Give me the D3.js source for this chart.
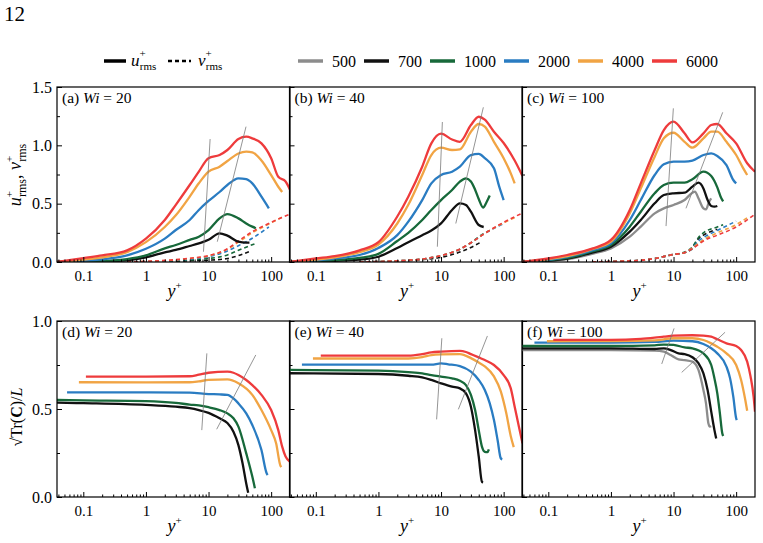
<!DOCTYPE html>
<html><head><meta charset="utf-8">
<script src="https://cdn.jsdelivr.net/npm/d3@7"></script>
<style>
body{margin:0;background:#fff}
svg{display:block}
text{font-family:"Liberation Serif","Times New Roman",serif;fill:#000}
</style>
</head><body>
<svg id="c" width="763" height="543"></svg>
<script>
// ---------------- DATA ----------------
const reList = [500, 700, 1000, 2000, 4000, 6000];
const legendLabels = ["500", "700", "1000", "2000", "4000", "6000"];
const xTickValues = [0.1, 1, 10, 100];
const xTickLabels = ["0.1", "1", "10", "100"];
const yTicksTop = [0, 0.5, 1.0, 1.5];
const yTickLabelsTop = ["0.0", "0.5", "1.0", "1.5"];
const yTicksBottom = [0, 0.5, 1.0];
const yTickLabelsBottom = ["0.0", "0.5", "1.0"];
const panelTags = ["(a)", "(b)", "(c)", "(d)", "(e)", "(f)"];
const panelWi = ["20", "40", "100", "20", "40", "100"];

// (a) Wi = 20 : u+rms
const uA = [
  [700, [[0.038,0],[0.1,0.002],[0.2,0.005],[0.5,0.015],[1,0.04],[2,0.083],[3,0.103],[5,0.137],[7,0.16],[10,0.19],[15,0.246],[20,0.226],[30,0.174],[40,0.166],[45,0.166]]],
  [1000, [[0.038,0],[0.1,0.003],[0.2,0.008],[0.5,0.025],[1,0.057],[2,0.117],[3,0.146],[5,0.189],[7,0.217],[10,0.274],[15,0.374],[20,0.411],[30,0.374],[40,0.331],[50,0.303],[57,0.29]]],
  [2000, [[0.038,0],[0.1,0.01],[0.2,0.023],[0.5,0.057],[1,0.113],[2,0.2],[3,0.274],[5,0.36],[7,0.446],[10,0.523],[15,0.6],[20,0.66],[30,0.717],[40,0.71],[50,0.674],[70,0.56],[92,0.46]]],
  [4000, [[0.038,0],[0.1,0.02],[0.2,0.04],[0.5,0.085],[1,0.17],[2,0.3],[3,0.4],[5,0.56],[7,0.675],[10,0.775],[15,0.817],[20,0.866],[30,0.93],[40,0.946],[50,0.94],[70,0.87],[100,0.745],[130,0.645],[150,0.6]]],
  [6000, [[0.038,0],[0.1,0.034],[0.2,0.057],[0.5,0.1],[1,0.2],[2,0.36],[3,0.49],[5,0.66],[7,0.775],[10,0.89],[15,0.917],[20,0.96],[30,1.054],[40,1.074],[50,1.06],[70,1.017],[100,0.89],[130,0.73],[170,0.69],[200,0.62]]]
];
// (a) v+rms
const vA = [
  [700, [[0.5,0],[1,0.002],[3,0.006],[5,0.01],[10,0.015],[20,0.03],[30,0.055],[45,0.09]]],
  [1000, [[0.5,0],[1,0.003],[3,0.01],[5,0.017],[10,0.03],[20,0.06],[30,0.1],[57,0.16]]],
  [2000, [[0.5,0],[1,0.004],[3,0.015],[5,0.025],[10,0.045],[20,0.095],[30,0.14],[50,0.204],[92,0.3]]],
  [4000, [[0.5,0],[1,0.005],[3,0.018],[5,0.03],[10,0.052],[20,0.11],[30,0.17],[50,0.25],[100,0.335],[150,0.385]]],
  [6000, [[0.5,0],[1,0.005],[3,0.02],[5,0.032],[10,0.055],[20,0.113],[30,0.18],[50,0.26],[100,0.34],[200,0.41]]]
];
const gA = [[[8.3,0.088],[10.6,1.054]], [[13.8,0.174],[39.7,1.16]]];

// (b) Wi = 40 : u+rms
const uB = [
  [700, [[0.038,0],[0.1,0.005],[0.2,0.01],[0.5,0.02],[1,0.045],[2,0.12],[3,0.17],[5,0.23],[7,0.27],[10,0.331],[15,0.446],[20,0.503],[25,0.489],[30,0.431],[40,0.317],[48,0.3]]],
  [1000, [[0.038,0],[0.1,0.01],[0.2,0.017],[0.5,0.035],[1,0.07],[2,0.18],[3,0.25],[5,0.36],[7,0.446],[10,0.531],[15,0.617],[20,0.689],[25,0.717],[30,0.69],[35,0.62],[40,0.54],[47,0.467],[53,0.51],[60,0.57]]],
  [2000, [[0.038,0],[0.1,0.015],[0.2,0.03],[0.5,0.06],[1,0.12],[2,0.23],[3,0.346],[5,0.531],[7,0.674],[10,0.746],[15,0.774],[20,0.817],[30,0.917],[40,0.926],[50,0.89],[70,0.803],[85,0.646],[100,0.531]]],
  [4000, [[0.038,0],[0.1,0.02],[0.2,0.04],[0.5,0.085],[1,0.15],[2,0.33],[3,0.49],[5,0.746],[7,0.917],[10,0.98],[15,0.96],[20,0.966],[30,1.117],[40,1.183],[50,1.16],[70,1.03],[100,0.89],[130,0.76],[150,0.674]]],
  [6000, [[0.038,0],[0.1,0.03],[0.2,0.05],[0.5,0.1],[1,0.17],[2,0.39],[3,0.56],[5,0.817],[7,1.017],[10,1.1],[15,1.05],[20,1.03],[30,1.174],[40,1.245],[50,1.22],[70,1.117],[100,1.02],[150,0.87],[200,0.737]]]
];
// (b) v+rms
const vB = [
  [700, [[0.5,0],[1,0.003],[3,0.012],[5,0.02],[10,0.04],[20,0.085],[30,0.125],[45,0.175]]],
  [1000, [[0.5,0],[1,0.004],[3,0.015],[5,0.025],[10,0.055],[20,0.11],[30,0.165],[45,0.235],[60,0.27]]],
  [2000, [[0.5,0],[1,0.004],[3,0.015],[5,0.025],[10,0.055],[20,0.11],[30,0.165],[50,0.245],[100,0.33]]],
  [4000, [[0.5,0],[1,0.004],[3,0.015],[5,0.025],[10,0.055],[20,0.11],[30,0.165],[50,0.245],[100,0.335],[150,0.38]]],
  [6000, [[0.5,0],[1,0.004],[3,0.015],[5,0.025],[10,0.055],[20,0.11],[30,0.165],[50,0.245],[100,0.34],[200,0.42]]]
];
const gB = [[[8.73,0.131],[10.5,1.2]], [[17.2,0.33],[47.4,1.326]]];

// (c) Wi = 100 : u+rms
const uC = [
  [500, [[0.038,0],[0.1,0.01],[0.2,0.025],[0.5,0.07],[1,0.117],[2,0.217],[3,0.303],[5,0.417],[7,0.46],[10,0.489],[15,0.531],[20,0.594],[22,0.603],[25,0.546],[30,0.46],[33,0.451],[37,0.517],[40,0.546]]],
  [700, [[0.038,0],[0.1,0.012],[0.2,0.03],[0.5,0.08],[1,0.131],[2,0.26],[3,0.36],[5,0.503],[7,0.574],[10,0.589],[15,0.594],[20,0.646],[25,0.68],[30,0.631],[35,0.531],[40,0.48],[45,0.474],[50,0.48]]],
  [1000, [[0.038,0],[0.1,0.015],[0.2,0.035],[0.5,0.09],[1,0.146],[2,0.303],[3,0.431],[5,0.589],[7,0.66],[10,0.68],[15,0.68],[20,0.709],[30,0.774],[40,0.737],[50,0.64],[58,0.546],[62,0.52]]],
  [2000, [[0.038,0],[0.1,0.02],[0.2,0.045],[0.5,0.1],[1,0.16],[2,0.36],[3,0.531],[5,0.746],[7,0.837],[10,0.86],[15,0.86],[20,0.869],[30,0.917],[40,0.931],[50,0.909],[70,0.831],[90,0.703],[100,0.674]]],
  [4000, [[0.038,0],[0.1,0.025],[0.2,0.05],[0.5,0.11],[1,0.174],[2,0.417],[3,0.631],[5,0.903],[7,1.06],[10,1.108],[15,1.03],[20,0.98],[30,1.06],[40,1.117],[50,1.117],[70,1.03],[100,0.917],[130,0.803],[150,0.746]]],
  [6000, [[0.038,0],[0.1,0.03],[0.2,0.06],[0.5,0.115],[1,0.189],[2,0.446],[3,0.674],[5,0.96],[7,1.131],[10,1.203],[15,1.103],[20,1.025],[30,1.103],[40,1.174],[50,1.183],[70,1.103],[100,1.017],[150,0.846],[200,0.774]]]
];
// (c) v+rms
const vC = [
  [500, [[0.5,0],[1,0.004],[3,0.015],[5,0.03],[10,0.065],[15,0.08],[20,0.11],[25,0.16],[30,0.19],[40,0.23]]],
  [700, [[0.5,0],[1,0.004],[3,0.015],[5,0.03],[10,0.065],[15,0.08],[20,0.12],[25,0.2],[30,0.23],[50,0.28]]],
  [1000, [[0.5,0],[1,0.004],[3,0.015],[5,0.03],[10,0.065],[15,0.085],[20,0.13],[25,0.21],[30,0.25],[50,0.3],[62,0.32]]],
  [2000, [[0.5,0],[1,0.004],[3,0.015],[5,0.03],[10,0.065],[15,0.08],[20,0.12],[25,0.18],[30,0.21],[50,0.27],[100,0.35]]],
  [4000, [[0.5,0],[1,0.004],[3,0.015],[5,0.03],[10,0.065],[15,0.08],[20,0.12],[25,0.16],[30,0.19],[50,0.25],[100,0.32],[150,0.38]]],
  [6000, [[0.5,0],[1,0.004],[3,0.015],[5,0.03],[10,0.065],[15,0.08],[20,0.115],[25,0.15],[30,0.18],[50,0.23],[100,0.3],[200,0.41]]]
];
const gC = [[[7.59,0.308],[9.93,1.317]], [[15.8,0.46],[61,1.283]]];

// (d) Wi = 20 : sqrt(Tr C)/L
const cD = [
  [700, [[0.038,0.536],[0.1,0.533],[1,0.523],[3,0.513],[5,0.505],[7,0.494],[10,0.478],[15,0.447],[20,0.42],[25,0.371],[30,0.295],[35,0.19],[40,0.077],[43,0.024]]],
  [1000, [[0.038,0.551],[0.1,0.549],[1,0.545],[3,0.535],[5,0.525],[7,0.52],[10,0.51],[15,0.494],[20,0.475],[25,0.447],[30,0.4],[40,0.248],[50,0.116],[55,0.05]]],
  [2000, [[0.055,0.595],[0.1,0.595],[1,0.594],[5,0.593],[10,0.585],[15,0.583],[20,0.58],[25,0.56],[30,0.532],[40,0.475],[50,0.409],[70,0.267],[85,0.134],[88,0.125]]],
  [4000, [[0.085,0.652],[1,0.651],[5,0.652],[7,0.657],[10,0.665],[20,0.668],[30,0.646],[50,0.58],[70,0.494],[100,0.38],[120,0.305],[140,0.18],[145,0.17]]],
  [6000, [[0.11,0.684],[1,0.684],[5,0.686],[7,0.695],[10,0.706],[20,0.712],[25,0.706],[30,0.693],[40,0.665],[50,0.636],[70,0.58],[100,0.494],[130,0.38],[150,0.286],[170,0.23],[200,0.2]]]
];
const gD = [[[7.8,0.38],[9.4,0.816]], [[13.5,0.385],[56.8,0.807]]];

// (e) Wi = 40
const cE = [
  [700, [[0.038,0.703],[1,0.699],[3,0.689],[5,0.68],[7,0.665],[10,0.646],[15,0.627],[20,0.617],[25,0.589],[30,0.513],[35,0.38],[40,0.23],[45,0.087],[47,0.083]]],
  [1000, [[0.038,0.722],[1,0.718],[3,0.71],[5,0.703],[7,0.693],[10,0.684],[15,0.674],[20,0.66],[25,0.636],[30,0.58],[35,0.494],[40,0.38],[45,0.286],[50,0.257],[55,0.255],[58,0.27]]],
  [2000, [[0.06,0.752],[1,0.752],[5,0.752],[7,0.752],[10,0.759],[13,0.754],[20,0.744],[30,0.712],[40,0.665],[50,0.608],[60,0.532],[70,0.437],[80,0.324],[90,0.22],[95,0.214]]],
  [4000, [[0.09,0.787],[1,0.787],[3,0.787],[5,0.795],[7,0.806],[10,0.81],[20,0.812],[30,0.789],[40,0.764],[50,0.742],[70,0.685],[90,0.6],[110,0.477],[130,0.345],[145,0.283]]],
  [6000, [[0.12,0.803],[1,0.803],[3,0.803],[5,0.812],[7,0.822],[10,0.826],[20,0.83],[25,0.824],[30,0.812],[40,0.793],[50,0.778],[70,0.75],[100,0.693],[130,0.617],[150,0.513],[175,0.4],[200,0.305]]]
];
const gE = [[[8.5,0.441],[10.3,0.902]], [[18.9,0.498],[55,0.915]]];

// (f) Wi = 100
const cF = [
  [500, [[0.038,0.835],[1,0.835],[5,0.832],[7,0.826],[9,0.807],[12,0.782],[15,0.778],[20,0.769],[25,0.722],[30,0.608],[33,0.532],[36,0.419],[38,0.4],[40,0.402]]],
  [700, [[0.038,0.845],[1,0.845],[5,0.841],[7,0.845],[9,0.835],[12,0.816],[15,0.812],[20,0.794],[25,0.76],[30,0.703],[35,0.608],[40,0.485],[45,0.38],[48,0.333]]],
  [1000, [[0.038,0.858],[1,0.858],[5,0.862],[7,0.866],[10,0.864],[15,0.85],[20,0.845],[30,0.816],[40,0.75],[45,0.674],[50,0.589],[55,0.475],[60,0.362],[62,0.347]]],
  [2000, [[0.06,0.877],[1,0.877],[5,0.881],[10,0.888],[20,0.885],[30,0.869],[40,0.845],[50,0.816],[70,0.741],[80,0.674],[90,0.57],[100,0.447],[102,0.437]]],
  [4000, [[0.095,0.885],[1,0.886],[5,0.89],[10,0.902],[20,0.902],[30,0.892],[40,0.873],[50,0.854],[70,0.816],[100,0.75],[120,0.665],[140,0.551],[150,0.49]]],
  [6000, [[0.12,0.893],[1,0.893],[3,0.898],[5,0.905],[7,0.911],[10,0.917],[20,0.919],[30,0.917],[40,0.911],[50,0.896],[70,0.873],[100,0.858],[120,0.835],[150,0.769],[170,0.684],[190,0.57],[200,0.485]]]
];
const gF = [[[6.48,0.756],[10.2,0.958]], [[13.5,0.708],[66.5,0.936]]];

// ---------------- STYLE / LAYOUT ----------------
const reColors = ["#8c8c8c", "#111111", "#17693a", "#2a7cc2", "#f1a444", "#ee3b3c"];
const colorOf = re => reColors[reList.indexOf(re)];
const xDomain = [0.038, 200];
const colW = 233;
const colLefts = [57, 289.5, 522];
const rows = [
  {top: 87, bottom: 262, yMax: 1.5, ticks: yTicksTop, labels: yTickLabelsTop},
  {top: 321, bottom: 497, yMax: 1.0, ticks: yTicksBottom, labels: yTickLabelsBottom}
];
const panels = [
  {row:0, col:0, solid:uA, dashed:vA, guides:gA},
  {row:0, col:1, solid:uB, dashed:vB, guides:gB},
  {row:0, col:2, solid:uC, dashed:vC, guides:gC},
  {row:1, col:0, solid:cD, dashed:[], guides:gD},
  {row:1, col:1, solid:cE, dashed:[], guides:gE},
  {row:1, col:2, solid:cF, dashed:[], guides:gF}
];

const svg = d3.select("#c");
const FONT = "Liberation Serif, Times New Roman, serif";

// minor x ticks
const xMinor = [];
for (let e = -2; e <= 2; e++) for (let k = 2; k <= 9; k++) {
  const v = k * Math.pow(10, e);
  if (v > xDomain[0] && v < xDomain[1]) xMinor.push(v);
}

panels.forEach((p, pi) => {
  const R = rows[p.row], L = colLefts[p.col];
  const x = d3.scaleLog().domain(xDomain).range([L, L + colW]);
  const y = d3.scaleLinear().domain([0, R.yMax]).range([R.bottom, R.top]);
  const g = svg.append("g");
  const cid = "clip" + pi;
  svg.append("clipPath").attr("id", cid).append("rect")
    .attr("x", L).attr("y", R.top).attr("width", colW).attr("height", R.bottom - R.top);
  const plot = g.append("g").attr("clip-path", `url(#${cid})`);
  const line = d3.line().x(d => x(d[0])).y(d => y(d[1])).curve(d3.curveMonotoneX);
  p.dashed.forEach(([re, pts]) => plot.append("path").attr("d", line(pts))
    .attr("fill", "none").attr("stroke", colorOf(re)).attr("stroke-width", 1.6)
    .attr("stroke-dasharray", "4,3"));
  p.solid.forEach(([re, pts]) => plot.append("path").attr("d", line(pts))
    .attr("fill", "none").attr("stroke", colorOf(re)).attr("stroke-width", 2.3)
    .attr("stroke-linejoin", "round"));
  const straight = d3.line().x(d => x(d[0])).y(d => y(d[1]));
  p.guides.forEach(seg => plot.append("path").attr("d", straight(seg))
    .attr("fill", "none").attr("stroke", "#7a7a7a").attr("stroke-width", 0.8));

  // axes
  const xa = g.append("g").attr("transform", `translate(0,${R.bottom})`)
    .call(d3.axisBottom(x).tickValues(xTickValues).tickFormat((d, i) => xTickLabels[i]).tickSize(-5).tickPadding(8));
  xa.select(".domain").remove();
  xa.attr("font-size", 15).attr("font-family", FONT);
  const xm = g.append("g").attr("transform", `translate(0,${R.bottom})`)
    .call(d3.axisBottom(x).tickValues(xMinor).tickFormat("").tickSize(-2.5));
  xm.select(".domain").remove();

  const ya = g.append("g").attr("transform", `translate(${L},0)`)
    .call(d3.axisLeft(y).tickValues(R.ticks).tickFormat((d, i) => p.col === 0 ? R.labels[i] : "").tickSize(-5).tickPadding(5));
  ya.select(".domain").remove();
  ya.attr("font-size", 16).attr("font-family", FONT);
  const yMinor = d3.range(0.25, R.yMax, 0.5);
  const ym = g.append("g").attr("transform", `translate(${L},0)`)
    .call(d3.axisLeft(y).tickValues(yMinor).tickFormat("").tickSize(-3));
  ym.select(".domain").remove();

  // frame
  g.append("rect").attr("x", L).attr("y", R.top).attr("width", colW).attr("height", R.bottom - R.top)
    .attr("fill", "none").attr("stroke", "#000").attr("stroke-width", 1.2);

  // panel label
  const t = g.append("text").attr("x", L + 5).attr("y", R.top + 16).attr("font-size", 15.5);
  t.append("tspan").text(panelTags[pi] + " ");
  t.append("tspan").attr("font-style", "italic").text("Wi");
  t.append("tspan").text(" = " + panelWi[pi]);

  // x label
  const xl = g.append("text").attr("x", L + colW / 2 + 1).attr("y", R.bottom + 35)
    .attr("text-anchor", "middle").attr("font-size", 18);
  xl.append("tspan").attr("font-style", "italic").text("y");
  xl.append("tspan").attr("font-size", 11).attr("dy", -8).text("+");
});

// y-axis titles
const yt1 = svg.append("text").attr("transform", "translate(21,175) rotate(-90)")
  .attr("text-anchor", "middle").attr("font-size", 18);
yt1.append("tspan").attr("font-style", "italic").text("u");
yt1.append("tspan").attr("font-size", 11).attr("dy", -8).text("+");
yt1.append("tspan").attr("font-size", 12).attr("dx", -6).attr("dy", 13).text("rms");
yt1.append("tspan").attr("dy", -5).text(", ");
yt1.append("tspan").attr("font-style", "italic").text("v");
yt1.append("tspan").attr("font-size", 11).attr("dy", -8).text("+");
yt1.append("tspan").attr("font-size", 12).attr("dx", -6).attr("dy", 13).text("rms");

const yt2 = svg.append("text").attr("transform", "translate(22,417) rotate(-90)")
  .attr("text-anchor", "middle").attr("font-size", 16);
yt2.append("tspan").text("\u221ATr(");
yt2.append("tspan").attr("font-weight", "bold").text("C");
yt2.append("tspan").text(")/");
yt2.append("tspan").attr("font-style", "italic").text("L");

// page number
svg.append("text").attr("x", 4).attr("y", 21).attr("font-size", 21).text("12");

// legend
const LY = 61;
svg.append("line").attr("x1", 104).attr("x2", 126).attr("y1", LY).attr("y2", LY)
  .attr("stroke", "#000").attr("stroke-width", 3.5);
const l1 = svg.append("text").attr("x", 131).attr("y", LY + 5).attr("font-size", 17);
l1.append("tspan").attr("font-style", "italic").text("u");
l1.append("tspan").attr("font-size", 11).attr("dy", -9).text("+");
l1.append("tspan").attr("font-size", 11).attr("dx", -6).attr("dy", 13).text("rms");
svg.append("line").attr("x1", 168).attr("x2", 191).attr("y1", LY).attr("y2", LY)
  .attr("stroke", "#000").attr("stroke-width", 2.5).attr("stroke-dasharray", "4,3");
const l2 = svg.append("text").attr("x", 198).attr("y", LY + 5).attr("font-size", 17);
l2.append("tspan").attr("font-style", "italic").text("v");
l2.append("tspan").attr("font-size", 11).attr("dy", -9).text("+");
l2.append("tspan").attr("font-size", 11).attr("dx", -6).attr("dy", 13).text("rms");

let lx = 298;
reList.forEach((re, i) => {
  svg.append("line").attr("x1", lx).attr("x2", lx + 25).attr("y1", LY).attr("y2", LY)
    .attr("stroke", reColors[i]).attr("stroke-width", 3.5);
  const tt = svg.append("text").attr("x", lx + 34).attr("y", LY + 5.5).attr("font-size", 16).text(legendLabels[i]);
  const w = tt.node().getComputedTextLength();
  lx = lx + 34 + w + 8;
});
</script>
</body></html>
